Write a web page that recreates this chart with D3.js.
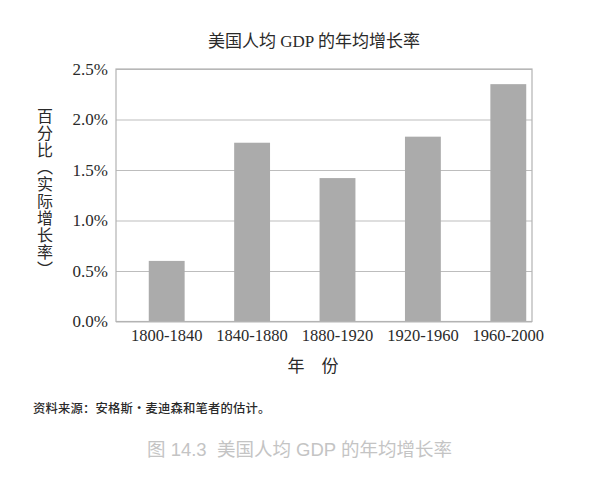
<!DOCTYPE html>
<html>
<head>
<meta charset="utf-8">
<script src="https://cdn.jsdelivr.net/npm/d3@7"></script>
<style>
  body { margin: 0; background: #fff; }
  .chart text { fill: #2a2a2a; }
</style>
</head>
<body>
<div class="chart"></div>
<script>
//data
var periods = ['1800-1840', '1840-1880', '1880-1920', '1920-1960', '1960-2000'];
var growth = [0.60, 1.77, 1.42, 1.83, 2.35];
var yTicks = [0, 0.5, 1.0, 1.5, 2.0, 2.5];

//canvas
var canvasSize = {'x' : 599, 'y' : 493};
var plot = {'left' : 116, 'right' : 532, 'top' : 69, 'bottom' : 321.5};

var svg =
  d3.select('.chart')
    .append('svg')
      .attr('width', canvasSize.x)
      .attr('height', canvasSize.y);

var serif = '"Liberation Serif", "Times New Roman", serif';
var cjk = '"Noto Sans CJK SC", "Noto Sans", sans-serif';

//scales
var x = d3.scaleBand()
  .domain(periods)
  .range([124, 551])
  .paddingInner(0.58)
  .paddingOuter(0.29);

var y = d3.scaleLinear()
  .domain([0, 2.5])
  .range([plot.bottom, plot.top]);

//title
svg.append('text')
  .attr('x', 314)
  .attr('y', 47)
  .attr('text-anchor', 'middle')
  .style('font-family', serif + ', ' + cjk)
  .style('font-size', '17px')
  .text('美国人均 GDP 的年均增长率');

//gridlines + y labels
var yAxis = svg.append('g')
  .attr('transform', 'translate(' + plot.left + ',0)')
  .call(d3.axisLeft(y)
    .tickValues(yTicks)
    .tickSize(-(plot.right - plot.left))
    .tickPadding(8)
    .tickFormat(function(d){ return d3.format('.1f')(d) + '%'; }));

yAxis.select('.domain').remove();
yAxis.selectAll('line')
  .attr('stroke', '#bdbdbd')
  .attr('stroke-width', 1.2);
yAxis.selectAll('text')
  .style('font-family', serif)
  .style('font-size', '17px')
  .attr('fill', '#2a2a2a');

//bars
svg.selectAll('.bar')
  .data(growth)
  .enter()
  .append('rect')
    .attr('class', 'bar')
    .attr('x', function(d, i){ return x(periods[i]); })
    .attr('y', function(d){ return y(d); })
    .attr('width', x.bandwidth())
    .attr('height', function(d){ return y(0) - y(d); })
    .attr('fill', '#ababab');

//plot border
svg.append('rect')
  .attr('x', plot.left)
  .attr('y', plot.top)
  .attr('width', plot.right - plot.left)
  .attr('height', plot.bottom - plot.top)
  .attr('fill', 'none')
  .attr('stroke', '#b3b3b3')
  .attr('stroke-width', 1.2);

//x labels
var xAxis = svg.append('g')
  .attr('transform', 'translate(0,' + plot.bottom + ')')
  .call(d3.axisBottom(x).tickSize(0).tickPadding(8));

xAxis.select('.domain').remove();
xAxis.selectAll('text')
  .style('font-family', serif)
  .style('font-size', '16.5px')
  .attr('fill', '#2a2a2a');

//axis titles
svg.append('text')
  .attr('x', 313)
  .attr('y', 372)
  .attr('text-anchor', 'middle')
  .style('font-family', cjk)
  .style('font-size', '17px')
  .text('年　份');

svg.append('text')
  .attr('x', 45)
  .attr('y', 193)
  .attr('text-anchor', 'middle')
  .style('writing-mode', 'vertical-rl')
  .style('font-family', cjk)
  .style('font-size', '16px')
  .style('letter-spacing', '1px')
  .text('百分比（实际增长率）');

//source note
svg.append('text')
  .attr('x', 33)
  .attr('y', 413)
  .style('font-family', cjk)
  .style('font-size', '12.3px')
  .style('font-weight', '500')
  .style('letter-spacing', '0.2px')
  .text('资料来源：安格斯·麦迪森和笔者的估计。');

//figure caption
svg.append('text')
  .attr('x', 147)
  .attr('y', 456)
  .style('font-family', '"Liberation Sans", ' + cjk)
  .style('font-size', '18.5px')
  .style('white-space', 'pre')
  .style('fill', '#c4c4c4')
  .text('图 14.3  美国人均 GDP 的年均增长率');
</script>
</body>
</html>
